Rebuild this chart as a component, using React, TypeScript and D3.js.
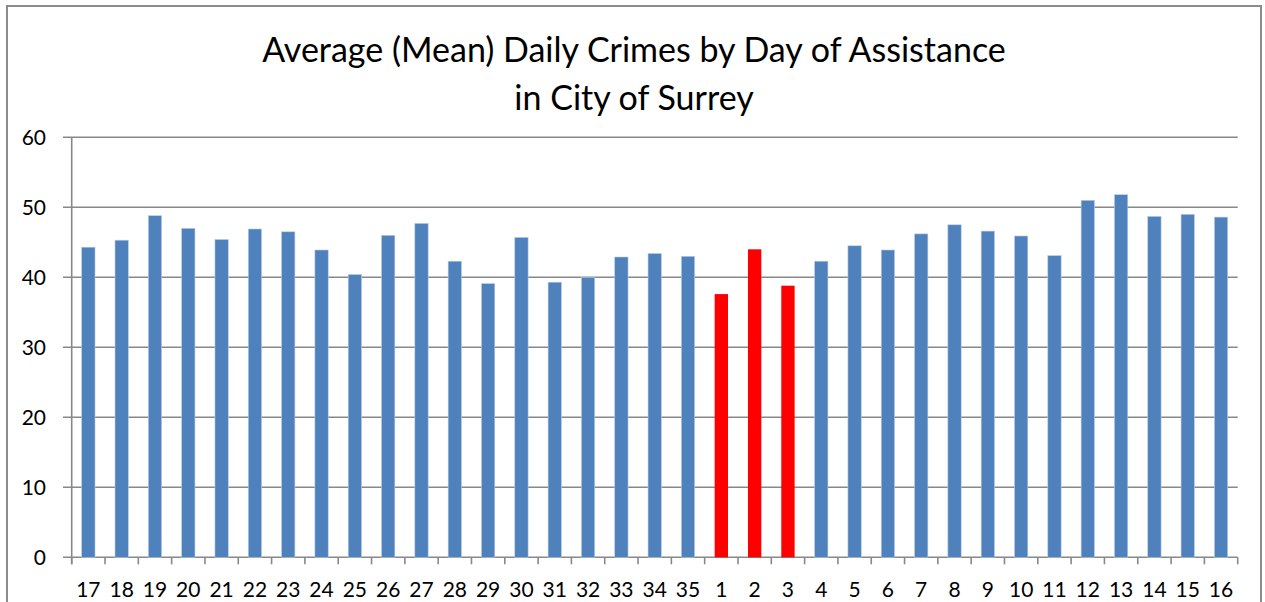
import React from "react";
import * as d3 from "d3";

const categories = ["17","18","19","20","21","22","23","24","25","26","27","28","29","30","31","32","33","34","35","1","2","3","4","5","6","7","8","9","10","11","12","13","14","15","16"];
const values = [44.3,45.3,48.8,47.0,45.4,46.9,46.5,43.9,40.4,46.0,47.7,42.3,39.1,45.7,39.3,40.0,42.9,43.4,43.0,37.6,44.0,38.8,42.3,44.5,43.9,46.2,47.5,46.6,45.9,43.1,51.0,51.8,48.7,49.0,48.6];
const highlighted = ["1","2","3"];
const yTicks = [0,10,20,30,40,50,60];
const titleLines = ["Average (Mean) Daily Crimes by Day of Assistance", "in City of Surrey"];

const W = 1265, H = 602;
const left = 71.7, right = 1237.7, top = 137.3, bottom = 557.3;
const font = "Lato, 'Open Sans', sans-serif";

export default function App() {
  const y = d3.scaleLinear().domain([0, 60]).range([bottom, top]);
  const x = d3.scaleBand().domain(categories).range([left, right]).paddingInner(0).paddingOuter(0);
  const band = x.bandwidth();
  const barW = band * 0.4;
  return (
    <svg width={W} height={H} style={{ position: "absolute", left: 0, top: 0, background: "#fff" }} fontFamily={font}>
      <rect x={7} y={6} width={1254} height={H + 10} fill="#fff" stroke="#8c8c8c" strokeWidth={2} />
      {titleLines.map((t, i) => (
        <text key={i} x={634} y={62 + i * 48} textAnchor="middle" fontSize={34} fill="#000">{t}</text>
      ))}
      {yTicks.map(v => (
        <g key={v}>
          <line x1={63} x2={right} y1={y(v)} y2={y(v)} stroke="#888" strokeWidth={1.6} />
          <text x={46} y={y(v) + 7.5} textAnchor="end" fontSize={21} fill="#000">{v}</text>
        </g>
      ))}
      <line x1={left} x2={left} y1={top} y2={bottom + 7} stroke="#888" strokeWidth={1.6} />
      {d3.range(categories.length + 1).map(i => (
        <line key={i} x1={left + band * i} x2={left + band * i} y1={bottom} y2={bottom + 7} stroke="#888" strokeWidth={1.6} />
      ))}
      {categories.map((c, i) => (
        <rect key={c} x={(x(c) as number) + (band - barW) / 2} y={y(values[i])} width={barW} height={bottom - y(values[i])}
          fill={highlighted.includes(c) ? "#ff0000" : "#4f81bd"}
          stroke={highlighted.includes(c) ? "none" : "#b9cde5"} strokeWidth={0.6} />
      ))}
      {categories.map((c) => (
        <text key={c} x={(x(c) as number) + band / 2} y={597} textAnchor="middle" fontSize={21} fill="#000">{c}</text>
      ))}
    </svg>
  );
}
